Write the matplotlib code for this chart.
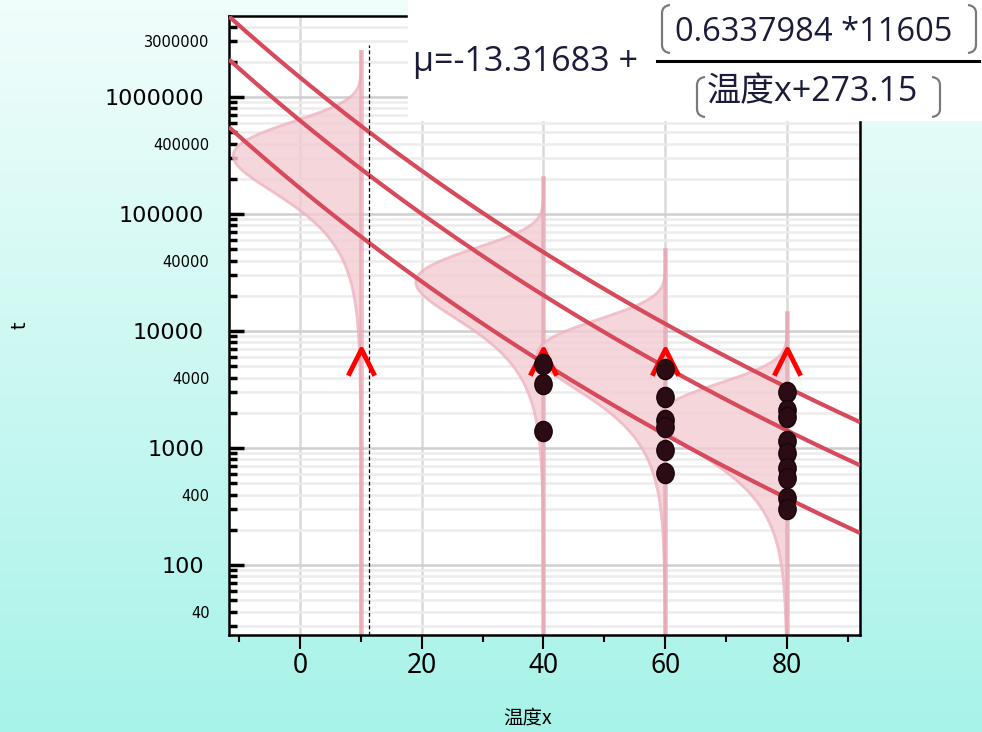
import numpy as np
import matplotlib
matplotlib.use("Agg")
import matplotlib.pyplot as plt
from matplotlib.path import Path
from matplotlib.patches import PathPatch, Rectangle
from matplotlib.lines import Line2D

# stress levels (温度x) and observed failure times t
levels = [10, 40, 60, 80]
fail_40 = [5200, 3500, 1400]
fail_60 = [4700, 2750, 1750, 1500, 960, 610]
fail_80 = [3000, 2100, 1850, 1150, 910, 670, 550, 370, 300]
censor_t = [5400, 5400, 5400, 5400]   # runouts, one marker per level

# fitted Arrhenius / Weibull model (see the formula box)
b0 = -13.31683
b1 = 0.6337984
k = 11605
sigma = 0.707
quantiles = [0.1, 0.5, 0.9]
cursor_x = 11.3

major_y = [100, 1000, 10000, 100000, 1000000]
minor_lab = {40: "40", 400: "400", 4000: "4000", 40000: "40000",
             400000: "400000", 3000000: "3000000"}

W, H = 982, 732
def fx(px):
    return px / W
def fy(py):
    return 1 - py / H


def mu(x):
    return b0 + b1 * k / (np.asarray(x, dtype=float) + 273.15)


fig = plt.figure(figsize=(W / 100, H / 100), dpi=100)

# gradient background
bg = fig.add_axes([0, 0, 1, 1], zorder=-10)
c_top = np.array([0.945, 0.993, 0.985])
c_bot = np.array([0.655, 0.953, 0.915])
g = np.linspace(0, 1, 256)[:, None, None]
bg.imshow(c_top * (1 - g) + c_bot * g, aspect="auto", extent=[0, 1, 0, 1])
bg.axis("off")

ax = fig.add_axes([fx(229), 1 - 635 / H, (860 - 229) / W, (635 - 16) / H])
ax.set_yscale("log")
xmin, xmax = -11.66, 92.0
ymin, ymax = 25.2, 4.92e6

# density of log t at each level, drawn sideways
z = np.linspace(-16, 2.9, 500)
for lv in levels:
    m = mu(lv)
    t = np.exp(m + sigma * z)
    w = 57 * np.exp(z - np.exp(z))
    ax.fill_betweenx(t, lv - w, lv, color="#f3ccd3", alpha=0.8, lw=0, zorder=2)
    ax.plot(lv - w, t, color="#eeb3bf", lw=2, alpha=0.8, zorder=2)
    ax.plot([lv, lv], [t[-1], ymin], color="#e9a3b0", lw=3.3, alpha=0.7, zorder=2)

# quantile curves
xx = np.linspace(xmin, xmax, 300)
for p in quantiles:
    ax.plot(xx, np.exp(mu(xx) + sigma * np.log(-np.log(1 - p))),
            color="#d64a5b", lw=3, zorder=3, solid_capstyle="butt")

ax.axvline(cursor_x, ymin=0, ymax=(635 - 45) / (635 - 16), color="black",
           lw=0.9, ls=(0, (3, 2)), zorder=3)

# censored runouts
chev = Path([(-1, -1), (0, 1), (1, -1)], [Path.MOVETO, Path.LINETO, Path.LINETO])
ax.plot(levels, censor_t, ls="none", marker=chev, ms=19, mfc="none",
        mec="#ff0000", mew=3.5, zorder=3.5)

# failures (slightly tall dots)
circ = Path.unit_circle()
dot = Path(circ.vertices * [0.86, 1.0], circ.codes)
for lv, vals in [(40, fail_40), (60, fail_60), (80, fail_80)]:
    ax.plot([lv] * len(vals), vals, ls="none", marker=dot, ms=14.5,
            color="#2b0c14", mec="#1a0509", zorder=4)

ax.set_xlim(xmin, xmax)
ax.set_ylim(ymin, ymax)

ax.set_xticks([0, 20, 40, 60, 80])
ax.set_xticklabels(["0", "20", "40", "60", "80"], fontsize=19, family="Noto Sans")
ax.set_xticks([-10, 10, 30, 50, 70, 90], minor=True)
ax.tick_params(axis="x", which="major", direction="out", length=10, width=1.5, pad=2)
ax.tick_params(axis="x", which="minor", direction="out", length=5, width=1.5)

minor_y = []
for e in range(1, 7):
    for mlt in range(2, 10):
        v = mlt * 10 ** e
        if ymin <= v <= ymax:
            minor_y.append(v)
ax.set_yticks(major_y)
ax.set_yticklabels([str(v) for v in major_y], fontsize=16)
ax.set_yticks(minor_y, minor=True)
ax.set_yticklabels([minor_lab.get(v, "") for v in minor_y], minor=True, fontsize=10.5)
ax.tick_params(axis="y", which="major", direction="in", length=11, width=2.5, pad=18)
ax.tick_params(axis="y", which="minor", direction="in", length=6, width=2.5, pad=14)

ax.set_axisbelow(True)
ax.grid(True, which="major", axis="x", color="#d9d9d9", lw=1.8)
ax.grid(True, which="major", axis="y", color="#cfcfcf", lw=1.8)
ax.grid(True, which="minor", axis="y", color="#ececec", lw=1.8)
for s in ax.spines.values():
    s.set_linewidth(1.8)

fig.text(fx(528), fy(718), "温度x", ha="center", va="center", fontsize=14,
         family=["Noto Sans CJK SC", "DejaVu Sans"])
fig.text(fx(20), fy(325), "t", ha="center", va="center", rotation=90, fontsize=14)

# formula box
fig.add_artist(Rectangle((fx(408), fy(120)), (W - 408) / W, 120 / H,
                         transform=fig.transFigure, color="white", zorder=5))
tc = "#1b1b3a"
fnt = ["Open Sans", "Noto Sans CJK SC", "DejaVu Sans"]
fig.text(fx(413), fy(71), "μ=-13.31683 +", fontsize=24.5, color=tc, family=fnt,
         ha="left", va="baseline", zorder=6)
fig.text(fx(675), fy(41), f"{b1} *{k}", fontsize=23.5, color=tc, family=fnt,
         ha="left", va="baseline", zorder=6)
fig.text(fx(707), fy(101), "温度x+273.15", fontsize=24.5, color=tc, family=fnt,
         ha="left", va="baseline", zorder=6)
fig.add_artist(Line2D([fx(657), fx(979)], [fy(61), fy(61)], transform=fig.transFigure,
                      color="black", lw=2.2, zorder=6))


def paren(x0, x1, top, bot, left=True):
    xo, xi = (x1, x0) if left else (x0, x1)
    r = 8
    verts = [(xo, top), (xi, top + 1), (xi, top + r), (xi, bot - r), (xi, bot - 1), (xo, bot)]
    codes = [Path.MOVETO, Path.CURVE3, Path.CURVE3, Path.LINETO, Path.CURVE3, Path.CURVE3]
    verts = [(fx(a), fy(b)) for a, b in verts]
    fig.add_artist(PathPatch(Path(verts, codes), transform=fig.transFigure,
                             fill=False, ec="#7a7a7a", lw=1.6, zorder=6))


paren(662, 670, 5, 53, True)
paren(968, 976, 5, 53, False)
paren(697, 705, 77, 117, True)
paren(932, 940, 77, 117, False)

fig.savefig("out.png", dpi=100)
